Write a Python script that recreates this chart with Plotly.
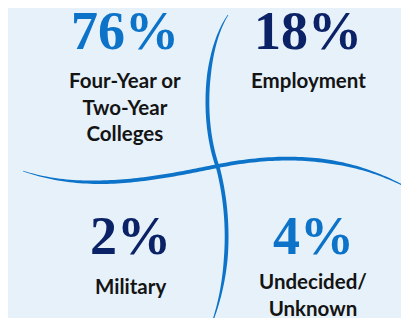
import numpy as np
import plotly.graph_objects as go

# ---- data ----
percent_values = [76, 18, 2, 4]
category_labels = ["Four-Year or<br>Two-Year<br>Colleges", "Employment", "Military", "Undecided/<br>Unknown"]

# ---- layout / style (pixel coordinates, y downward) ----
W, H = 409, 318
BG = "#E6F1FA"
BLUE = "#0C73C9"
NAVY = "#0B2266"
value_colors = [BLUE, NAVY, NAVY, BLUE]
value_pos = [(117, 23), (300, 23), (122, 228), (305, 228)]
label_pos = [(117, 58), (300, 58), (122, 264), (305, 259)]

fig = go.Figure()


def bezier(p0, p1, p2, p3, n=60):
    t = np.linspace(0, 1, n)[:, None]
    p0, p1, p2, p3 = map(np.array, (p0, p1, p2, p3))
    return (1 - t) ** 3 * p0 + 3 * (1 - t) ** 2 * t * p1 + 3 * (1 - t) * t ** 2 * p2 + t ** 3 * p3


def tapered(segments, wmax=3.8, wmin=0.6):
    pts = np.vstack([bezier(*s) for s in segments])
    d = np.gradient(pts, axis=0)
    d /= np.linalg.norm(d, axis=1)[:, None]
    nrm = np.column_stack([-d[:, 1], d[:, 0]])
    s = np.linspace(0, 1, len(pts))
    w = wmin + (wmax - wmin) * np.clip(np.sin(np.pi * s) * 1.6, 0, 1)
    left = pts + nrm * (w[:, None] / 2)
    right = pts - nrm * (w[:, None] / 2)
    poly = np.vstack([left, right[::-1]])
    return "M " + " L ".join(f"{x:.2f},{y:.2f}" for x, y in poly) + " Z"


vert = [((220, 7), (198, 40), (192, 110), (210, 160)),
        ((210, 160), (223, 210), (222, 270), (202, 320))]
horiz = [((15, 163), (80, 185), (150, 170), (210, 158)),
         ((210, 158), (270, 146), (340, 145), (405, 183))]

shapes = []
for segs in (vert, horiz):
    shapes.append(dict(type="path", path=tapered(segs), xref="x", yref="y",
                       fillcolor=BLUE, line=dict(width=0), layer="below"))

annotations = []
for v, c, (x, y) in zip(percent_values, value_colors, value_pos):
    annotations.append(dict(x=x, y=y, xref="x", yref="y", text=f"<b>{v}%</b>", showarrow=False,
                            font=dict(family="Liberation Serif, serif", size=54, color=c),
                            xanchor="center", yanchor="middle", borderpad=0))
for lab, (x, y) in zip(category_labels, label_pos):
    annotations.append(dict(x=x, y=y, xref="x", yref="y", text=f"<b>{lab}</b>", showarrow=False,
                            font=dict(family="Lato, sans-serif", size=20.5, color="#141414"),
                            xanchor="center", yanchor="top", align="center"))

fig.update_layout(
    width=W, height=H,
    margin=dict(l=0, r=0, t=0, b=0),
    paper_bgcolor=BG, plot_bgcolor=BG,
    xaxis=dict(range=[0, W], visible=False, fixedrange=True),
    yaxis=dict(range=[H, 0], visible=False, fixedrange=True),
    shapes=shapes, annotations=annotations, showlegend=False,
)

fig.write_html("out.html")
